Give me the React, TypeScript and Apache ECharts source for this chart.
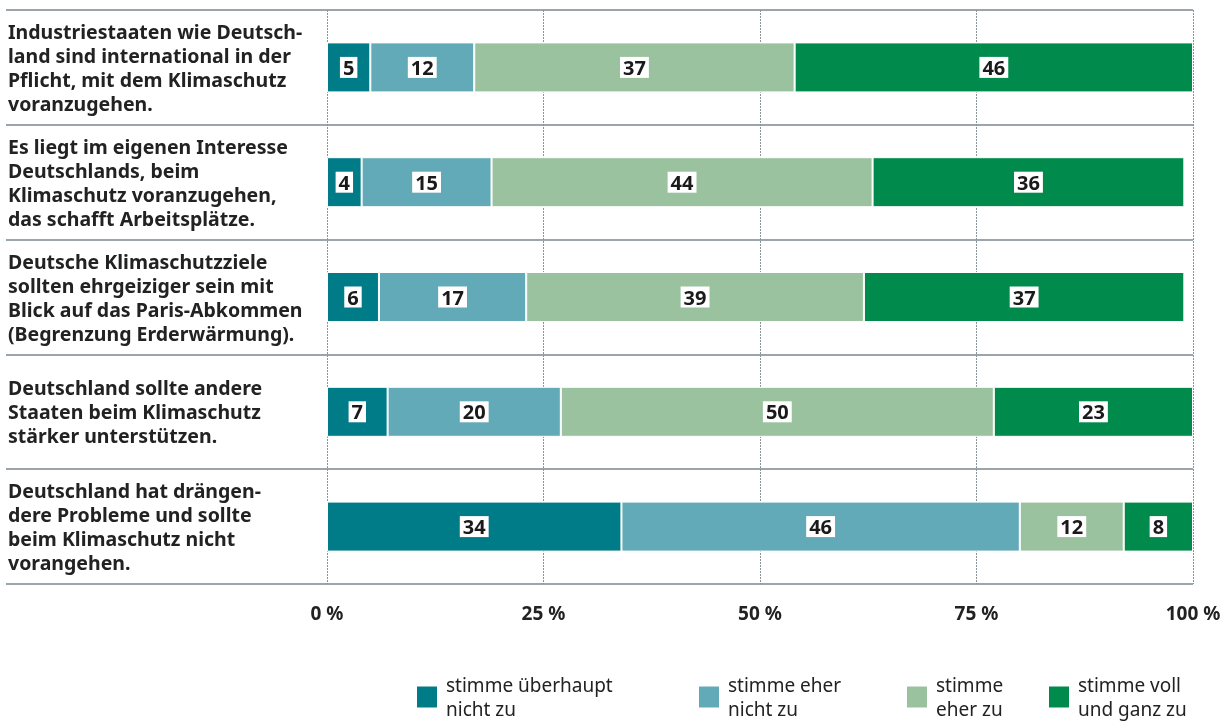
import React, { useEffect, useRef } from "react";
import * as echarts from "echarts";

const categories = [
  "Industriestaaten wie Deutsch-\nland sind international in der\nPflicht, mit dem Klimaschutz\nvoranzugehen.",
  "Es liegt im eigenen Interesse\nDeutschlands, beim\nKlimaschutz voranzugehen,\ndas schafft Arbeitsplätze.",
  "Deutsche Klimaschutzziele\nsollten ehrgeiziger sein mit\nBlick auf das Paris-Abkommen\n(Begrenzung Erderwärmung).",
  "Deutschland sollte andere\nStaaten beim Klimaschutz\nstärker unterstützen.",
  "Deutschland hat drängen-\ndere Probleme und sollte\nbeim Klimaschutz nicht\nvorangehen.",
];

const seriesNames = [
  "stimme überhaupt\nnicht zu",
  "stimme eher\nnicht zu",
  "stimme\neher zu",
  "stimme voll\nund ganz zu",
];

const ueberhauptNicht = [5, 4, 6, 7, 34];
const eherNicht = [12, 15, 17, 20, 46];
const eherZu = [37, 44, 39, 50, 12];
const vollUndGanz = [46, 36, 37, 23, 8];

const colors = ["#007B88", "#62AAB8", "#9BC29E", "#008A4C"];
const legendLeft = [415, 697, 905, 1047];

const FONT = "Noto Sans";

export default function App() {
  const ref = useRef<HTMLDivElement>(null);
  useEffect(() => {
    const chart = echarts.init(ref.current!, undefined, { renderer: "svg" });
    const values = [ueberhauptNicht, eherNicht, eherZu, vollUndGanz];
    const lineColor = "#7b878d";
    chart.setOption({
      animation: false,
      textStyle: { fontFamily: FONT },
      grid: { left: 327, right: 31, top: 10, height: 574 },
      xAxis: {
        type: "value",
        min: 0,
        max: 100,
        interval: 25,
        axisLine: { show: false },
        axisTick: { show: false },
        splitLine: {
          show: true,
          lineStyle: { type: [2, 1], color: "#8a959a", width: 1 },
        },
        axisLabel: {
          formatter: "{value} %",
          fontFamily: FONT,
          fontWeight: "bold",
          fontSize: 19,
          color: "#222",
          margin: 19,
        },
      },
      yAxis: {
        type: "category",
        inverse: true,
        data: categories,
        axisLine: { show: false },
        axisTick: {
          show: true,
          length: 321,
          interval: 0,
          lineStyle: { color: lineColor, width: 1.5 },
        },
        splitLine: {
          show: true,
          interval: 0,
          lineStyle: { color: lineColor, width: 1.5 },
        },
        axisLabel: {
          align: "left",
          margin: 319,
          interval: 0,
          fontFamily: FONT,
          fontWeight: "bold",
          fontSize: 19.5,
          lineHeight: 24,
          color: "#222",
        },
      },
      legend: seriesNames.map((n, i) => ({
        data: [n],
        left: legendLeft[i],
        top: 673,
        padding: 0,
        itemWidth: 22,
        itemHeight: 23,
        icon: "rect",
        selectedMode: false,
        textStyle: {
          fontFamily: FONT,
          fontSize: 19,
          lineHeight: 24,
          color: "#222",
          padding: [0, 0, 0, 3],
        },
      })),
      series: values.map((v, i) => ({
        type: "bar",
        name: seriesNames[i],
        stack: "total",
        data: v,
        barWidth: 50,
        itemStyle: { color: colors[i], borderColor: "#fff", borderWidth: 1 },
        label: {
          show: true,
          position: "inside",
          formatter: "{c}",
          fontFamily: FONT,
          fontWeight: "bold",
          fontSize: 20,
          color: "#1a1a1a",
          backgroundColor: "#fff",
          padding: [1, 3, 0, 3],
        },
      })),
    });
    return () => chart.dispose();
  }, []);
  return (
    <div
      ref={ref}
      style={{ position: "fixed", left: 0, top: 0, width: 1224, height: 722 }}
    />
  );
}
